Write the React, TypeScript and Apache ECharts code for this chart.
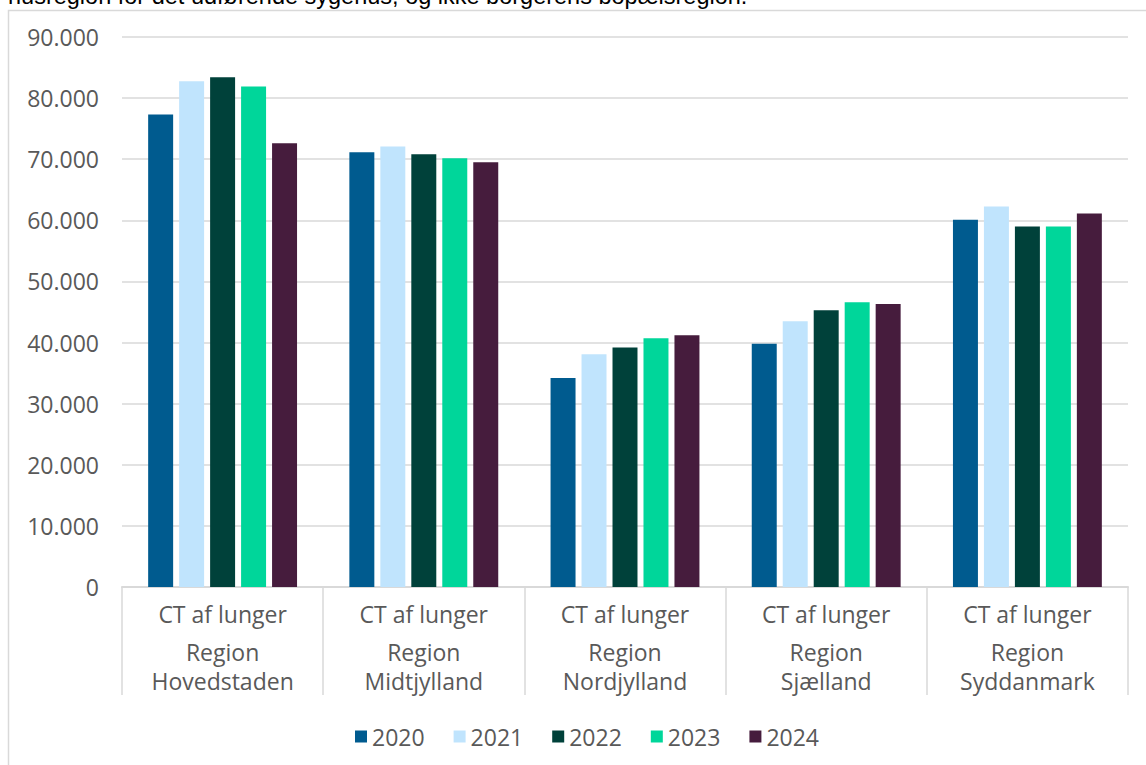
import React, { useEffect, useRef } from "react";
import * as echarts from "echarts";

// Regions shown on the category axis (second line of each label)
const regions = [
  "Region\nHovedstaden",
  "Region\nMidtjylland",
  "Region\nNordjylland",
  "Region\nSjælland",
  "Region\nSyddanmark",
];
const examLabel = "CT af lunger";

const years = ["2020", "2021", "2022", "2023", "2024"];

// Number of CT lung scans per region and year
const v2020 = [77300, 71150, 34200, 39800, 60100];
const v2021 = [82750, 72100, 38100, 43500, 62250];
const v2022 = [83400, 70800, 39200, 45300, 59000];
const v2023 = [81900, 70150, 40700, 46600, 59000];
const v2024 = [72600, 69500, 41200, 46300, 61100];
const seriesValues = [v2020, v2021, v2022, v2023, v2024];

const yearColors = ["#005B8F", "#C0E4FD", "#00413A", "#00D69A", "#461C3D"];

const yTickMax = 90000;
const yTickStep = 10000;

const noteText = "husregion for det udførende sygehus, og ikke borgerens bopælsregion.";

const FONT = "'Open Sans', sans-serif";
const GREY_TEXT = "#595959";
const GREY_LINE = "#D9D9D9";
const LABEL_SIZE = 23;

const formatThousands = (v: number) =>
  String(v).replace(/\B(?=(\d{3})+(?!\d))/g, ".");

export default function App() {
  const ref = useRef<HTMLDivElement>(null);

  useEffect(() => {
    if (!ref.current) return;
    const chart = echarts.init(ref.current, null, { renderer: "svg" });

    chart.setOption({
      animation: false,
      backgroundColor: "#FFFFFF",
      textStyle: { fontFamily: FONT },
      graphic: [
        {
          type: "rect",
          shape: { x: 8.5, y: 10.5, width: 1160, height: 800 },
          style: { fill: "none", stroke: GREY_LINE, lineWidth: 1.5 },
          silent: true,
        },
        {
          type: "text",
          x: 8,
          y: 8,
          style: {
            text: noteText,
            fontFamily: "'Liberation Sans', Arial, sans-serif",
            fontSize: 23.5,
            fill: "#000000",
            verticalAlign: "bottom",
            align: "left",
          },
          silent: true,
        },
      ],
      grid: { left: 122, top: 37, width: 1006, height: 550, containLabel: false },
      legend: {
        data: years,
        left: 350,
        top: 720,
        icon: "rect",
        itemWidth: 12,
        itemHeight: 12,
        itemGap: 29,
        textStyle: { fontFamily: FONT, fontSize: LABEL_SIZE, color: GREY_TEXT },
      },
      xAxis: {
        type: "category",
        data: regions,
        axisLine: { show: true, lineStyle: { color: GREY_LINE, width: 2 } },
        axisTick: {
          show: true,
          interval: 0,
          length: 108,
          lineStyle: { color: GREY_LINE, width: 1.5 },
        },
        axisLabel: {
          interval: 0,
          margin: 3,
          color: GREY_TEXT,
          fontFamily: FONT,
          formatter: (val: string) => {
            const [l1, l2] = val.split("\n");
            return `{a|${examLabel}}\n{b|${l1}}\n{b|${l2}}`;
          },
          rich: {
            a: { fontSize: LABEL_SIZE, lineHeight: 47, color: GREY_TEXT, fontFamily: FONT },
            b: { fontSize: LABEL_SIZE, lineHeight: 29, color: GREY_TEXT, fontFamily: FONT },
          },
        },
      },
      yAxis: {
        type: "value",
        min: 0,
        max: yTickMax,
        interval: yTickStep,
        axisLine: { show: false },
        axisTick: { show: false },
        splitLine: { lineStyle: { color: GREY_LINE, width: 1.5 } },
        axisLabel: {
          margin: 23,
          fontSize: LABEL_SIZE,
          color: GREY_TEXT,
          fontFamily: FONT,
          formatter: (v: number) => formatThousands(v),
        },
      },
      series: years.map((y, i) => ({
        name: y,
        type: "bar",
        data: seriesValues[i],
        barGap: "24%",
        barCategoryGap: "26%",
        itemStyle: { color: yearColors[i] },
      })),
    });

    return () => chart.dispose();
  }, []);

  return (
    <div
      ref={ref}
      style={{ position: "fixed", left: 0, top: 0, width: 1146, height: 765 }}
    />
  );
}
